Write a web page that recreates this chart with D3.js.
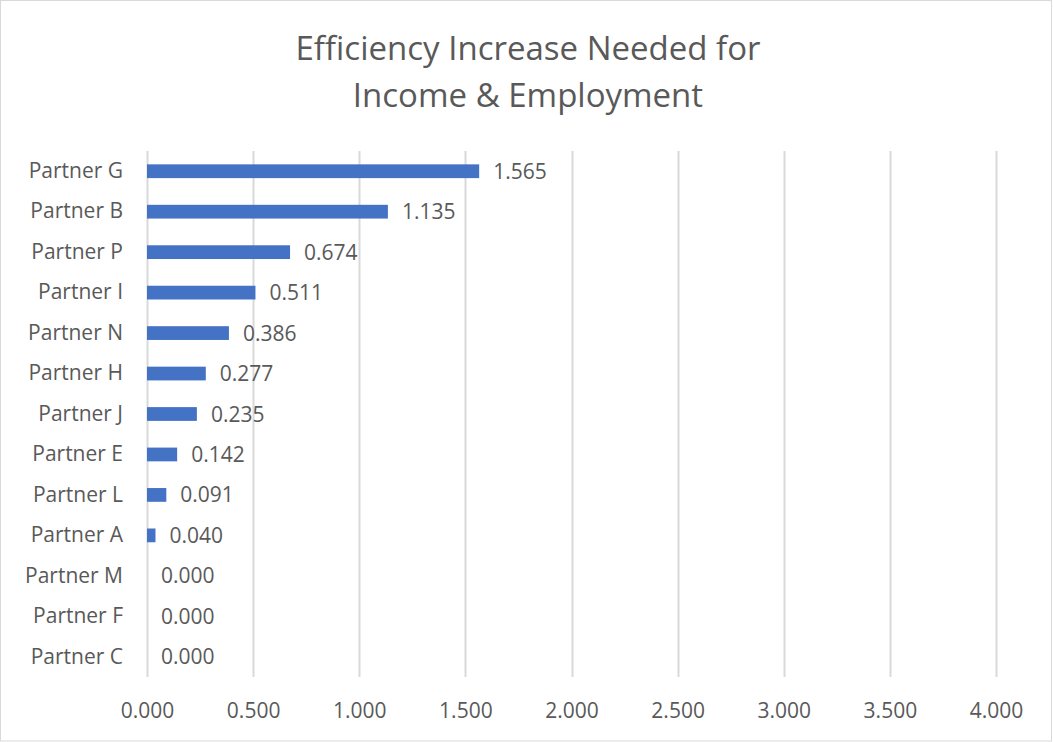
<!DOCTYPE html>
<html>
<head>
<meta charset="utf-8">
<script src="https://cdn.jsdelivr.net/npm/d3@7"></script>
<style>
    body { margin: 0; background: #fff; }
    text { font-family: "Open Sans", "Noto Sans", sans-serif; fill: #595959; }
</style>
</head>
<body>
<svg class="chart"></svg>
<script>
let partners = ["Partner G", "Partner B", "Partner P", "Partner I", "Partner N", "Partner H",
    "Partner J", "Partner E", "Partner L", "Partner A", "Partner M", "Partner F", "Partner C"]
let values = [1.565, 1.135, 0.674, 0.511, 0.386, 0.277, 0.235, 0.142, 0.091, 0.040, 0.000, 0.000, 0.000]
let x_ticks = [0, 0.5, 1, 1.5, 2, 2.5, 3, 3.5, 4]
let title_lines = ["Efficiency Increase Needed for", "Income & Employment"]

let width = 1053
let height = 742

let plot = { left: 147, right: 996, top: 151, bottom: 677 }

let svg = d3.select(".chart")
    .attr("width", width)
    .attr("height", height)

// chart border
svg.append("rect")
    .attr("x", 0.5).attr("y", 0.5)
    .attr("width", width - 2).attr("height", height - 1.5)
    .attr("fill", "white")
    .attr("stroke", "#d9d9d9")

let x = d3.scaleLinear()
    .domain([0, 4])
    .range([plot.left, plot.right])

let y = d3.scaleBand()
    .domain(partners)
    .range([plot.top, plot.bottom])
    .paddingInner(0.66)
    .paddingOuter(0.33)

// title
svg.append("text")
    .attr("text-anchor", "middle")
    .style("font-size", "33px")
    .selectAll("tspan")
    .data(title_lines)
    .enter().append("tspan")
    .attr("x", 528)
    .attr("y", (d, i) => 60 + i * 47)
    .text(d => d)

// gridlines
svg.append("g")
    .selectAll("line")
    .data(x_ticks)
    .enter().append("line")
    .attr("x1", d => Math.round(x(d)) + 0.5)
    .attr("x2", d => Math.round(x(d)) + 0.5)
    .attr("y1", plot.top)
    .attr("y2", plot.bottom)
    .attr("stroke", "#d9d9d9")
    .attr("stroke-width", 2)

// x tick labels
let x_axis = d3.axisBottom(x)
    .tickValues(x_ticks)
    .tickFormat(d3.format(".3f"))
    .tickSize(0)
    .tickPadding(0)

let gx = svg.append("g")
    .attr("transform", `translate(0, ${plot.bottom + 26})`)
    .call(x_axis)
gx.select(".domain").remove()
gx.selectAll("text")
    .style("font-size", "21px")
    .attr("fill", "#595959")
    .style("font-family", "\"Open Sans\", sans-serif")

// y category labels
let y_axis = d3.axisLeft(y)
    .tickSize(0)
    .tickPadding(24)

let gy = svg.append("g")
    .attr("transform", `translate(${plot.left}, 0)`)
    .call(y_axis)
gy.select(".domain").remove()
gy.selectAll("text")
    .style("font-size", "21px")
    .attr("fill", "#595959")
    .style("font-family", "\"Open Sans\", sans-serif")

// bars
svg.append("g")
    .selectAll("rect")
    .data(values)
    .enter().append("rect")
    .attr("x", x(0))
    .attr("y", (d, i) => y(partners[i]))
    .attr("width", d => x(d) - x(0))
    .attr("height", y.bandwidth())
    .attr("fill", "#4472c4")

// data labels
svg.append("g")
    .selectAll("text")
    .data(values)
    .enter().append("text")
    .attr("x", d => x(d) + 14)
    .attr("y", (d, i) => y(partners[i]) + y.bandwidth() / 2)
    .attr("dy", "0.36em")
    .style("font-size", "21px")
    .text(d => d3.format(".3f")(d))
</script>
</body>
</html>
